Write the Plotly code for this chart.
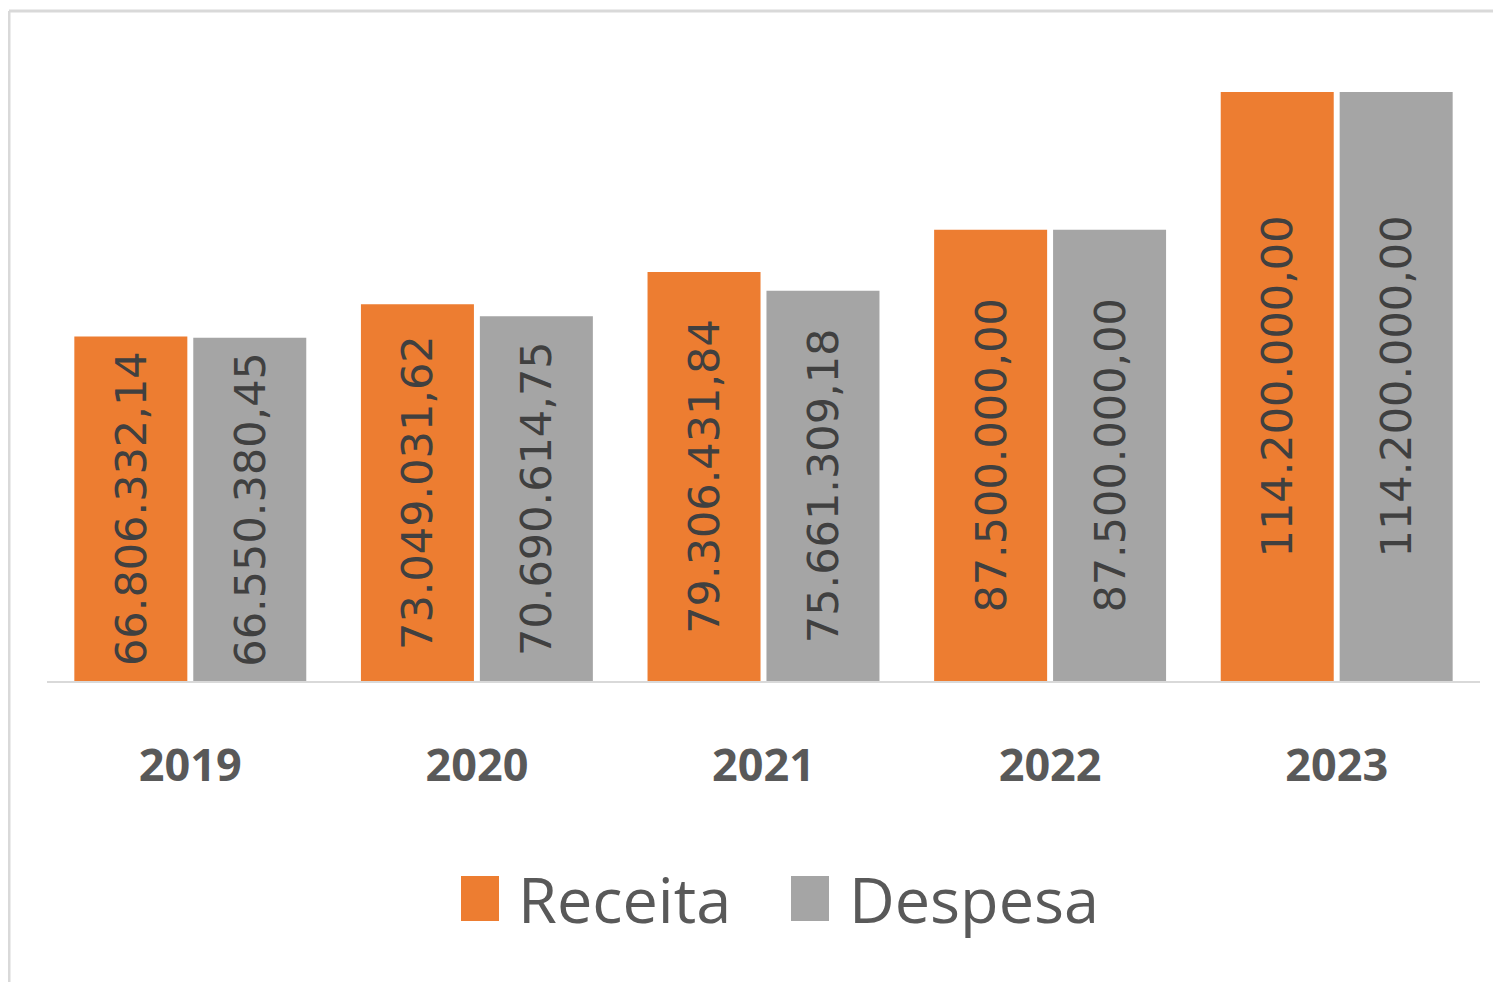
import plotly.graph_objects as go

# data
anos = ["2019", "2020", "2021", "2022", "2023"]
receita = [66806332.14, 73049031.62, 79306431.84, 87500000.00, 114200000.00]
despesa = [66550380.45, 70690614.75, 75661309.18, 87500000.00, 114200000.00]
series_names = ["Receita", "Despesa"]
series_colors = ["#ED7D31", "#A5A5A5"]


def fmt_br(v):
    # 66806332.14 -> 66.806.332,14
    s = f"{v:,.2f}"
    return s.replace(",", "X").replace(".", ",").replace("X", ".")


# the page body adds an 8px offset, so positions below are page coords minus 8
OFF = 8
W, H = 1485, 974
L, R, T, B = 39, 13, 54, 301
pw, ph = W - L - R, H - T - B

fig = go.Figure()
for name, vals, color in zip(series_names, [receita, despesa], series_colors):
    fig.add_trace(go.Bar(
        x=anos, y=vals, name=name,
        marker=dict(color=color, line=dict(width=0)),
        text=[fmt_br(v) for v in vals],
        textposition="inside",
        insidetextanchor="middle",
        textangle=-90,
        textfont=dict(family="DejaVu Sans", size=43, color="#404040"),
        constraintext="none",
        showlegend=False,
    ))


def px_x(x):
    return (x - OFF - L) / pw


def px_y(y):
    return (H - B - (y - OFF)) / ph


# light outer frame (top and left edges visible)
shapes = [
    dict(type="line", xref="paper", yref="paper", x0=px_x(9), x1=px_x(1520),
         y0=px_y(11), y1=px_y(11), line=dict(color="#D9D9D9", width=3)),
    dict(type="line", xref="paper", yref="paper", x0=px_x(9), x1=px_x(9),
         y0=px_y(11), y1=px_y(1010), line=dict(color="#D9D9D9", width=3)),
]

# custom legend with large squares
annotations = []
legend_items = [(461, 520), (791, 851)]
for (sx, tx), name, color in zip(legend_items, series_names, series_colors):
    shapes.append(dict(type="rect", xref="paper", yref="paper",
                       x0=px_x(sx), x1=px_x(sx + 38), y0=px_y(921), y1=px_y(876),
                       fillcolor=color, line=dict(width=0)))
    annotations.append(dict(xref="paper", yref="paper", x=px_x(tx - 4), y=px_y(898),
                            xanchor="left", yanchor="middle", showarrow=False,
                            text=name,
                            font=dict(family="Open Sans", size=63, color="#595959")))

fig.update_layout(
    width=W, height=H,
    margin=dict(l=L, r=R, t=T, b=B),
    paper_bgcolor="white", plot_bgcolor="white",
    barmode="group", bargap=0.17, bargroupgap=0.05,
    shapes=shapes, annotations=annotations,
    xaxis=dict(showline=True, linecolor="#D9D9D9", linewidth=2, ticks="",
               showgrid=False, ticklabelstandoff=44,
               tickfont=dict(family="Open Sans", size=45, color="#595959", weight="bold")),
    yaxis=dict(visible=False, range=[0, 120e6]),
)

fig.write_html("out.html")
